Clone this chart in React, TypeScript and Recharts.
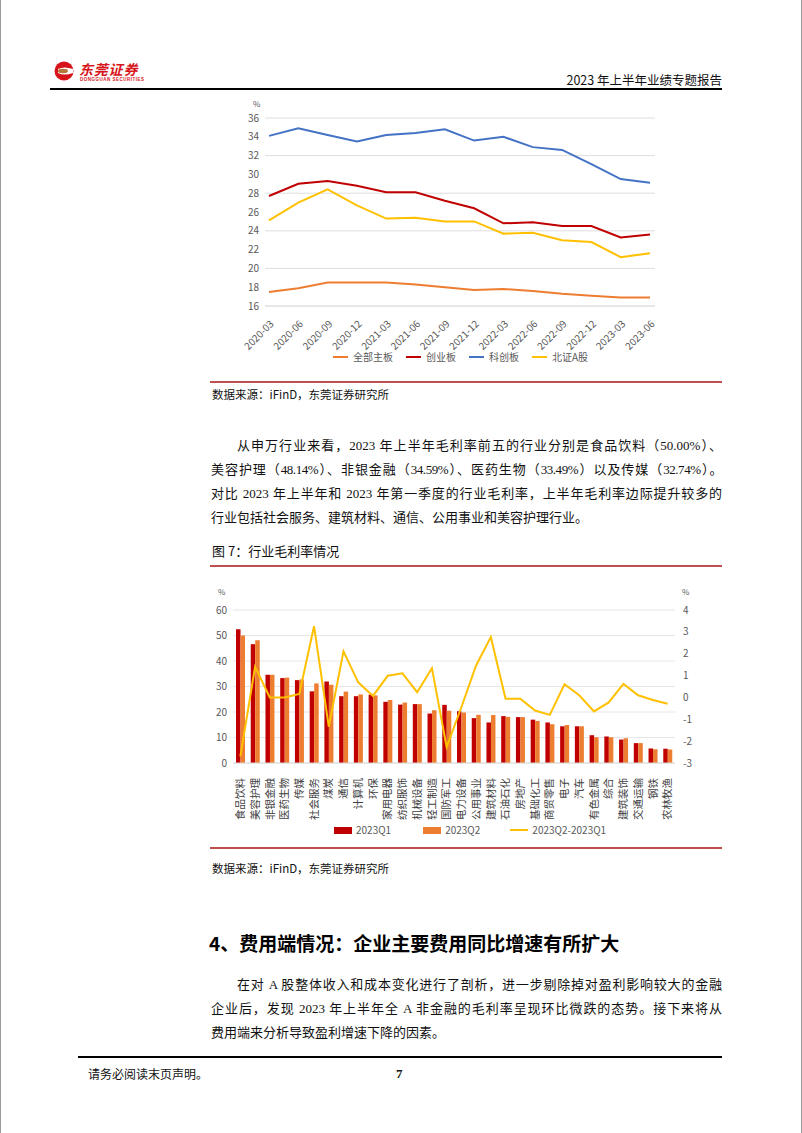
import React from 'react';
import { LineChart, Line, XAxis, YAxis, CartesianGrid, Legend, ComposedChart, Bar } from 'recharts';

// ---- figure 6: gross margin by board ----
const quarters = ['2020-03', '2020-06', '2020-09', '2020-12', '2021-03', '2021-06', '2021-09', '2021-12', '2022-03', '2022-06', '2022-09', '2022-12', '2023-03', '2023-06'];
const mainBoard = [17.5, 17.9, 18.5, 18.5, 18.5, 18.3, 18.0, 17.7, 17.8, 17.6, 17.3, 17.1, 16.9, 16.9];
const chinext = [27.7, 29.0, 29.3, 28.8, 28.1, 28.1, 27.2, 26.4, 24.8, 24.9, 24.5, 24.5, 23.3, 23.6];
const star = [34.1, 34.9, 34.2, 33.5, 34.2, 34.4, 34.8, 33.6, 34.0, 32.9, 32.6, 31.1, 29.5, 29.1];
const bse = [25.1, 27.0, 28.4, 26.7, 25.3, 25.4, 25.0, 25.0, 23.7, 23.8, 23.0, 22.8, 21.2, 21.6];
const leftTicks = [16, 18, 20, 22, 24, 26, 28, 30, 32, 34, 36];

// ---- figure 7: gross margin by industry ----
const industries = ['食品饮料', '美容护理', '非银金融', '医药生物', '传媒', '社会服务', '煤炭', '通信', '计算机', '环保', '家用电器', '纺织服饰', '机械设备', '轻工制造', '国防军工', '电力设备', '公用事业', '建筑材料', '石油石化', '房地产', '基础化工', '商贸零售', '电子', '汽车', '有色金属', '综合', '建筑装饰', '交通运输', '钢铁', '农林牧渔'];
const q1 = [52.5, 46.6, 34.6, 33.3, 32.5, 28.1, 32.0, 26.2, 26.2, 26.8, 24.0, 22.9, 23.1, 19.4, 22.8, 20.3, 17.6, 15.9, 18.4, 18.0, 17.0, 15.9, 14.4, 14.4, 10.9, 10.4, 9.2, 7.8, 5.7, 5.6];
const q2 = [50.0, 48.14, 34.59, 33.49, 32.74, 31.2, 30.7, 28.0, 26.9, 26.5, 24.7, 23.7, 23.1, 20.7, 20.5, 19.8, 18.9, 18.8, 18.1, 18.0, 16.5, 15.2, 14.9, 14.4, 10.1, 10.1, 9.7, 7.8, 5.4, 5.3];
const diff = [-2.7, 1.4, 0.0, 0.0, 0.16, 3.26, -1.34, 2.11, 0.69, 0.07, 0.99, 1.1, 0.24, 1.34, -2.27, -0.45, 1.46, 2.76, -0.06, -0.06, -0.6, -0.8, 0.6, 0.1, -0.64, -0.23, 0.62, 0.1, -0.12, -0.29];
const barLeftTicks = [0, 10, 20, 30, 40, 50, 60];
const barRightTicks = [-3, -2, -1, 0, 1, 2, 3, 4];

const trendData = quarters.map((q, i) => ({ q, main: mainBoard[i], chinext: chinext[i], star: star[i], bse: bse[i] }));
const barData = industries.map((name, i) => ({ name, q1: q1[i], q2: q2[i], diff: diff[i] }));

const CJK = '"Noto Sans CJK SC", "Liberation Sans", sans-serif';
const BODY = '"Liberation Serif", "Noto Sans CJK SC", serif';
const TICK = '#595959';

const RotTick = (props: any) => {
  const { x, y, payload } = props;
  return (
    <text x={x + 3} y={y + 8} transform={`rotate(-45 ${x + 3} ${y + 8})`} textAnchor="end" dy="0.35em" fontSize={10} fill={TICK} fontFamily={CJK}>
      {payload.value}
    </text>
  );
};

const VertTick = (props: any) => {
  const { x, y, payload } = props;
  return (
    <text x={x} y={y + 7} transform={`rotate(-90 ${x} ${y + 7})`} textAnchor="end" dy="0.35em" fontSize={10.5} fill="#404040" fontFamily={CJK}>
      {payload.value}
    </text>
  );
};

const trendLegend = [
  { name: '全部主板', color: '#ED7D31' },
  { name: '创业板', color: '#C00000' },
  { name: '科创板', color: '#4472C4' },
  { name: '北证A股', color: '#FFC000' },
];

const TrendLegend = () => (
  <div style={{ display: 'flex', fontFamily: CJK, fontSize: 10, color: TICK, lineHeight: '14px' }}>
    {trendLegend.map((it) => (
      <div key={it.name} style={{ display: 'flex', alignItems: 'center', marginRight: 13 }}>
        <span style={{ display: 'inline-block', width: 15, height: 2, background: it.color, marginRight: 5 }} />
        {it.name}
      </div>
    ))}
  </div>
);

const BarLegend = () => (
  <div style={{ display: 'flex', fontFamily: CJK, fontSize: 10, color: TICK, lineHeight: '14px' }}>
    <div style={{ display: 'flex', alignItems: 'center', marginRight: 32 }}>
      <span style={{ display: 'inline-block', width: 18, height: 7, background: '#C00000', marginRight: 4 }} />2023Q1
    </div>
    <div style={{ display: 'flex', alignItems: 'center', marginRight: 30 }}>
      <span style={{ display: 'inline-block', width: 18, height: 7, background: '#ED7D31', marginRight: 4 }} />2023Q2
    </div>
    <div style={{ display: 'flex', alignItems: 'center' }}>
      <span style={{ display: 'inline-block', width: 18, height: 2, background: '#FFC000', marginRight: 4 }} />2023Q2-2023Q1
    </div>
  </div>
);

const abs = (left: number, top: number, extra: React.CSSProperties = {}): React.CSSProperties => ({ position: 'absolute', left, top, ...extra });

const Line13 = ({ top, text, indent = 0, last = false, ls = 0 }: { top: number; text: string; indent?: number; last?: boolean; ls?: number }) => (
  <div
    style={abs(211 + indent, top, {
      width: 511 - indent,
      fontFamily: BODY,
      fontSize: 13,
      lineHeight: '18px',
      color: '#111',
      whiteSpace: 'nowrap',
      textAlign: last ? 'left' : 'justify',
      textAlignLast: last ? 'left' : 'justify',
      letterSpacing: ls,
    })}
  >
    {text}
  </div>
);

export default function App() {
  return (
    <div style={{ position: 'absolute', left: 0, top: 0, width: 802, height: 1133, background: '#fff', overflow: 'hidden' }}>
      <div style={abs(0, 0, { width: 1, height: 1133, background: '#9a9a9a' })} />
      <div style={abs(801, 0, { width: 1, height: 1133, background: '#9a9a9a' })} />

      {/* header */}
      <svg style={abs(54, 61)} width={20} height={20} viewBox="0 0 20 20">
        <circle cx={10} cy={10} r={9.5} fill="#D7141A" />
        <path d="M4 8 Q10 5 19 8 L19 12 Q10 15 4 12 Z" fill="#fff" />
        <ellipse cx={9} cy={10} rx={5} ry={2.2} fill="#B5763A" />
      </svg>
      <div style={abs(79, 60, { fontFamily: CJK, fontWeight: 700, fontSize: 14, letterSpacing: 0.8, color: '#D7141A', lineHeight: '18px', fontStyle: 'italic' })}>东莞证券</div>
      <div style={abs(80, 77, { fontFamily: '"Liberation Sans", sans-serif', fontSize: 4.5, letterSpacing: 0.5, color: '#D7141A', lineHeight: '5px', fontWeight: 700 })}>DONGGUAN SECURITIES</div>
      <div style={abs(522, 72, { width: 200, textAlign: 'right', fontFamily: CJK, fontSize: 12.5, color: '#111', lineHeight: '16px' })}>2023 年上半年业绩专题报告</div>
      <div style={abs(50, 88, { width: 672, height: 2, background: '#000' })} />

      {/* figure 6 */}
      <div style={abs(253, 99, { fontFamily: CJK, fontSize: 8, color: TICK, lineHeight: '9px' })}>%</div>
      <div style={abs(200, 95)}>
        <LineChart width={480} height={280} data={trendData} margin={{ top: 23, right: 25, left: 0, bottom: 9 }}>
          <CartesianGrid vertical={false} stroke="#dedede" />
          <XAxis dataKey="q" interval={0} tick={<RotTick />} tickLine={false} axisLine={{ stroke: '#dedede' }} height={60} padding={{ left: 4, right: 5 }} />
          <YAxis domain={[16, 36]} ticks={leftTicks} width={65} axisLine={false} tickLine={false} tickSize={0} tickMargin={6} tick={{ fontSize: 10, fill: TICK, fontFamily: CJK }} />
          <Legend layout="horizontal" verticalAlign="middle" align="center" wrapperStyle={{ top: 255, left: 133, width: 320 }} content={() => <TrendLegend />} />
          <Line dataKey="main" name="全部主板" stroke="#ED7D31" strokeWidth={2} dot={false} isAnimationActive={false} />
          <Line dataKey="chinext" name="创业板" stroke="#C00000" strokeWidth={2} dot={false} isAnimationActive={false} />
          <Line dataKey="star" name="科创板" stroke="#4472C4" strokeWidth={2} dot={false} isAnimationActive={false} />
          <Line dataKey="bse" name="北证A股" stroke="#FFC000" strokeWidth={2} dot={false} isAnimationActive={false} />
        </LineChart>
      </div>
      <div style={abs(210, 381, { width: 512, height: 2, background: '#C0504D' })} />
      <div style={abs(212, 386, { fontFamily: CJK, fontSize: 11.5, color: '#111', lineHeight: '16px' })}>数据来源：iFinD，东莞证券研究所</div>

      {/* body text 1 */}
      <Line13 top={437} indent={26} text="从申万行业来看，2023 年上半年毛利率前五的行业分别是食品饮料（50.00%）、" />
      <Line13 top={461} ls={-0.45} text="美容护理（48.14%）、非银金融（34.59%）、医药生物（33.49%）以及传媒（32.74%）。" />
      <Line13 top={485} text="对比 2023 年上半年和 2023 年第一季度的行业毛利率，上半年毛利率边际提升较多的" />
      <Line13 top={509} last text="行业包括社会服务、建筑材料、通信、公用事业和美容护理行业。" />

      <div style={abs(212, 542, { fontFamily: CJK, fontSize: 13, color: '#111', lineHeight: '18px' })}>图 7：行业毛利率情况</div>
      <div style={abs(210, 565, { width: 512, height: 2, background: '#C0504D' })} />

      {/* figure 7 */}
      <div style={abs(218, 587, { fontFamily: CJK, fontSize: 8, color: TICK, lineHeight: '9px' })}>%</div>
      <div style={abs(682, 587, { fontFamily: CJK, fontSize: 8, color: TICK, lineHeight: '9px' })}>%</div>
      <div style={abs(200, 580)}>
        <ComposedChart width={500} height={262} data={barData} margin={{ top: 30, right: 0, left: 0, bottom: 19 }} barGap={0} barCategoryGap={0}>
          <CartesianGrid vertical={false} stroke="#e6e6e6" yAxisId="left" />
          <XAxis dataKey="name" interval={0} tick={<VertTick />} tickLine={false} axisLine={{ stroke: '#d9d9d9' }} height={60} />
          <YAxis yAxisId="left" domain={[0, 60]} ticks={barLeftTicks} width={33} axisLine={false} tickLine={false} tickSize={0} tickMargin={6} tick={{ fontSize: 10, fill: TICK, fontFamily: CJK }} />
          <YAxis yAxisId="right" orientation="right" domain={[-3, 4]} ticks={barRightTicks} width={25} axisLine={false} tickLine={false} tickSize={0} tickMargin={8} tick={{ fontSize: 10, fill: TICK, fontFamily: CJK, textAnchor: 'start' }} />
          <Legend layout="horizontal" verticalAlign="middle" align="center" wrapperStyle={{ top: 243, left: 134, width: 320 }} content={() => <BarLegend />} />
          <Bar yAxisId="left" dataKey="q1" name="2023Q1" fill="#C00000" barSize={4.5} isAnimationActive={false} />
          <Bar yAxisId="left" dataKey="q2" name="2023Q2" fill="#ED7D31" barSize={4.5} isAnimationActive={false} />
          <Line yAxisId="right" dataKey="diff" name="2023Q2-2023Q1" stroke="#FFC000" strokeWidth={2} dot={false} isAnimationActive={false} />
        </ComposedChart>
      </div>
      <div style={abs(210, 847, { width: 512, height: 2, background: '#C0504D' })} />
      <div style={abs(212, 860, { fontFamily: CJK, fontSize: 11.5, color: '#111', lineHeight: '16px' })}>数据来源：iFinD，东莞证券研究所</div>

      {/* section 4 */}
      <div style={abs(209, 930, { fontFamily: CJK, fontSize: 19, fontWeight: 700, color: '#000', lineHeight: '26px' })}>4、费用端情况：企业主要费用同比增速有所扩大</div>
      <Line13 top={976} indent={26} text="在对 A 股整体收入和成本变化进行了剖析，进一步剔除掉对盈利影响较大的金融" />
      <Line13 top={1000} text="企业后，发现 2023 年上半年全 A 非金融的毛利率呈现环比微跌的态势。接下来将从" />
      <Line13 top={1024} last text="费用端来分析导致盈利增速下降的因素。" />

      {/* footer */}
      <div style={abs(78, 1056, { width: 644, height: 1.5, background: '#000' })} />
      <div style={abs(88, 1066, { fontFamily: CJK, fontSize: 12, color: '#111', lineHeight: '16px' })}>请务必阅读末页声明。</div>
      <div style={abs(396, 1066, { fontFamily: BODY, fontSize: 13, fontWeight: 700, color: '#111', lineHeight: '16px' })}>7</div>
    </div>
  );
}
